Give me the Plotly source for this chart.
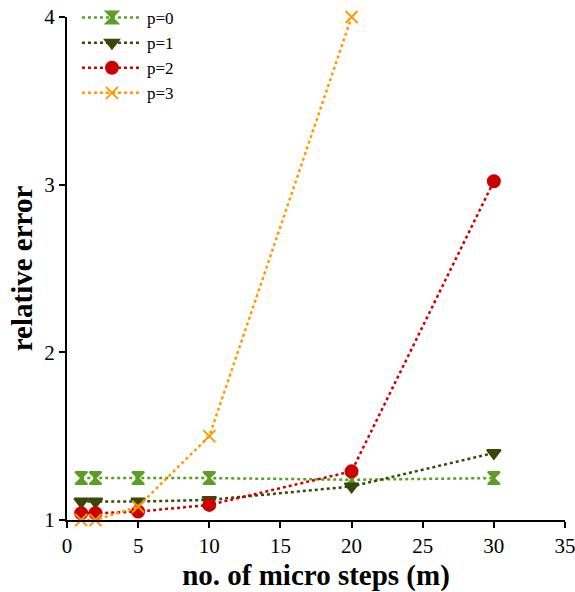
import plotly.graph_objects as go

steps = [1, 2, 5, 10, 20, 30]
steps_p3 = [1, 2, 5, 10, 20]
err_p0 = [1.25, 1.25, 1.25, 1.25, 1.24, 1.25]
err_p1 = [1.11, 1.11, 1.11, 1.12, 1.20, 1.40]
err_p2 = [1.04, 1.04, 1.05, 1.09, 1.29, 3.02]
err_p3 = [1.0, 1.0, 1.08, 1.50, 4.0]

series = [
    ("p=0", steps, err_p0, "#5b9e25", "hourglass", 12),
    ("p=1", steps, err_p1, "#364a06", "triangle-down", 12),
    ("p=2", steps, err_p2, "#cc0000", "circle", 12),
    ("p=3", steps_p3, err_p3, "#ff9900", "x-thin-open", 12),
]

fig = go.Figure()
for name, xs, ys, col, sym, sz in series:
    fig.add_trace(go.Scatter(
        x=xs, y=ys, name=name, mode="lines+markers",
        line=dict(color=col, width=2.5, dash="dot"),
        marker=dict(symbol=sym, size=sz, color=col, line=dict(color=col, width=2)),
        cliponaxis=False,
    ))

font_fam = "Liberation Serif, Times New Roman, serif"
fig.update_layout(
    width=575, height=592,
    margin=dict(l=67, r=10, t=0, b=72),
    plot_bgcolor="white", paper_bgcolor="white",
    font=dict(family=font_fam, color="black"),
    showlegend=True,
    legend=dict(x=0.02, y=1.0, xanchor="left", yanchor="top",
                font=dict(size=17, family=font_fam), bgcolor="rgba(0,0,0,0)",
                itemwidth=60, tracegroupgap=0),
    xaxis=dict(range=[0, 35], tickvals=[0, 5, 10, 15, 20, 25, 30, 35],
               automargin=False, ticklabeloverflow="allow",
               showgrid=False, zeroline=False, showline=True, linecolor="black",
               linewidth=2, ticks="outside", ticklen=6, tickcolor="black", tickwidth=2,
               tickfont=dict(size=21, family=font_fam),
               title=dict(text="<b>no. of micro steps (m)</b>",
                          font=dict(size=29, family=font_fam), standoff=8)),
    yaxis=dict(range=[1, 4], tickvals=[1, 2, 3, 4], domain=[0, 0.9673],
               automargin=False, ticklabeloverflow="allow",
               showgrid=False, zeroline=False, showline=True, linecolor="black",
               linewidth=2, ticks="outside", ticklen=6, tickcolor="black", tickwidth=2,
               tickfont=dict(size=21, family=font_fam),
               title=dict(text="<b>relative error</b>",
                          font=dict(size=29, family=font_fam), standoff=3)),
)

fig.write_html("out.html")
